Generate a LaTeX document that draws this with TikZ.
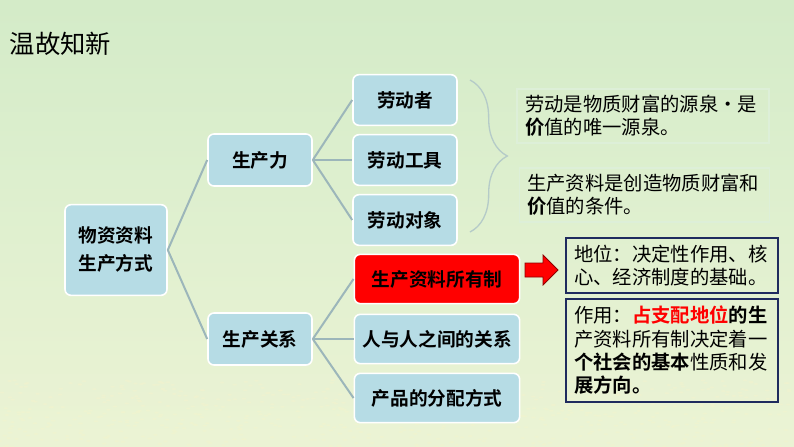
\documentclass[tikz,border=0pt]{standalone}
\usepackage{fontspec}
\setmainfont{Noto Sans CJK SC}[BoldFont={Noto Sans CJK SC Bold}]
\usetikzlibrary{decorations.pathreplacing}
\definecolor{boxblue}{HTML}{B6DCE5}
\definecolor{linkgray}{HTML}{9CB6BA}
\definecolor{hotred}{HTML}{FF0000}
\definecolor{navy}{HTML}{1F2B5E}
\definecolor{bracegray}{HTML}{B5CBC8}
\definecolor{notebd}{HTML}{DDEFD8}
\definecolor{speck}{HTML}{F0F3CF}
\definecolor{gA}{HTML}{A8DA96}
\definecolor{gB}{HTML}{BFE3A8}
\definecolor{gC}{HTML}{E6F1D0}
\definecolor{gD}{HTML}{EBF3D4}
\definecolor{gE}{HTML}{DDEFCE}
\definecolor{gF}{HTML}{C8E6C0}
\pgfdeclareverticalshading{meadow}{100bp}{color(0bp)=(gA); color(7bp)=(gB);
  color(16bp)=(gC); color(26bp)=(gD); color(55bp)=(gE); color(100bp)=(gF)}
\begin{document}
\begin{tikzpicture}[x=0.75pt, y=-0.75pt,
    box/.style={draw=white, line width=1.2pt, fill=boxblue, rounded corners=4.5pt,
                align=center, inner sep=2pt, font=\fontsize{14}{21}\selectfont\bfseries},
    mid/.style={box, minimum width=78pt, minimum height=39pt},
    leaf/.style={box, minimum width=78pt, minimum height=38pt},
    wide/.style={box, minimum width=124pt, minimum height=37pt},
    note/.style={draw=notebd, line width=0.8pt, align=left, inner xsep=6pt, inner ysep=0pt,
                 font=\fontsize{14.5}{17.5}\selectfont},
    keybox/.style={note, draw=navy, line width=1.3pt, text width=147pt},
    link/.style={draw=linkgray, line width=1.5pt},
    brace/.style={draw=bracegray, line width=1pt, decorate,
                  decoration={brace, amplitude=28pt}},
    blockarrow/.style={fill=hotred, draw=red!55!black, line width=0.6pt}
]
\useasboundingbox (0,0) rectangle (794,447);
\shade[shading=meadow] (0,0) rectangle (794,447);
\pgfmathsetseed{11}
\foreach \i in {1,...,700}
  \fill[speck, opacity=0.75] ({rnd*794},{380+rnd*67}) ellipse (2.2 and 0.9);

\node[anchor=west, font=\fontsize{19}{22}\selectfont] (title) at (5,44) {温故知新};

\node[box, minimum width=76.5pt, minimum height=68pt] (root) at (116,250) {物资资料\\生产方式};
\node[mid] (prod) at (260,160) {生产力};
\node[mid] (rel)  at (260,339) {生产关系};

\node[leaf] (worker) at (405,100) {劳动者};
\node[leaf] (tool)   at (405,160) {劳动工具};
\node[leaf] (obj)    at (405,220) {劳动对象};

\node[wide, fill=hotred] (own) at (437,279) {生产资料所有制};
\node[wide] (ppl)  at (437,339) {人与人之间的关系};
\node[wide] (dist) at (437,398) {产品的分配方式};

\node[note, text width=177pt, minimum height=40.5pt] (note1) at (643,116)
  {劳动是物质财富的源泉・是\\\textbf{价}值的唯一源泉。};
\node[note, text width=176pt, minimum height=40.5pt] (note2) at (644.5,195)
  {生产资料是创造物质财富和\\\textbf{价}值的条件。};

\node[keybox, minimum height=41pt] (pos) at (672,265.5)
  {地位：决定性作用、核\\心、经济制度的基础。};
\node[keybox, minimum height=77pt] (role) at (672,350.5)
  {作用：{\bfseries\color{hotred}占支配地位}\textbf{的生}\\产资料所有制决定着一\\\textbf{个社会的基本}性质和发\\\textbf{展方向。}};

\draw[blockarrow] (525,263) -- (543,263) -- (543,255) -- (558,270)
  -- (543,285) -- (543,277) -- (525,277) -- cycle;

\coordinate (bt) at (470,80);
\coordinate (bb) at (470,232);
\draw[brace] (bt) -- (bb);

\draw[link] (root.east) -- (prod.west);
\draw[link] (root.east) -- (rel.west);
\draw[link] (prod.east) -- (worker.west);
\draw[link] (prod.east) -- (tool.west);
\draw[link] (prod.east) -- (obj.west);
\draw[link] (rel.east)  -- (own.west);
\draw[link] (rel.east)  -- (ppl.west);
\draw[link] (rel.east)  -- (dist.west);
\end{tikzpicture}
\end{document}
